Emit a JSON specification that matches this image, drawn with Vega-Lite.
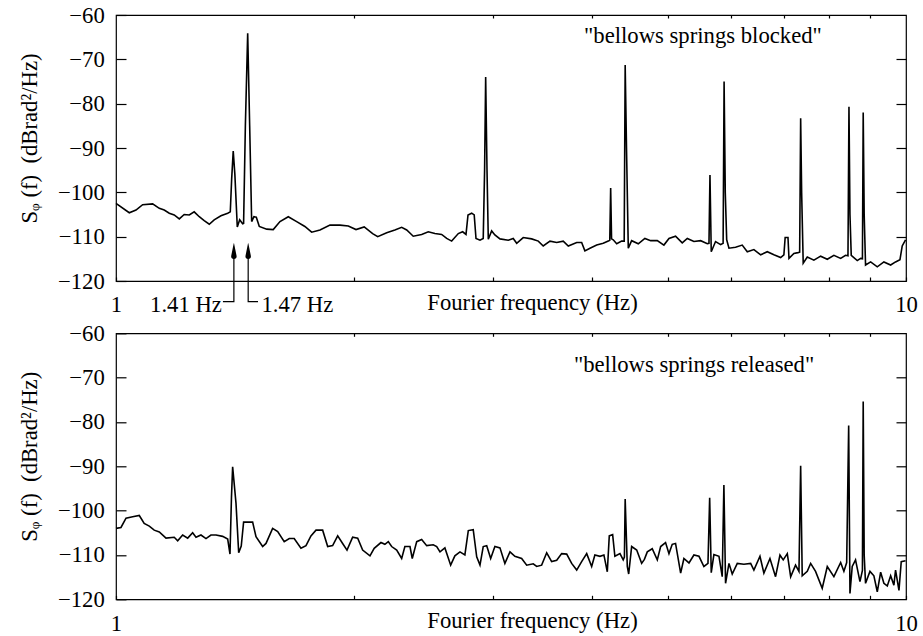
{
  "$schema": "https://vega.github.io/schema/vega-lite/v6.json",
  "autosize": {"type": "pad"},
  "padding": {"left": 17, "top": 3, "right": 0, "bottom": 0},
  "background": "white",
  "bounds": "flush",
  "spacing": 52.3,
  "datasets": {
    "blocked": [
      {"f":1.0000,"v":-102.5},{"f":1.0395,"v":-104.6},{"f":1.0600,"v":-104.0},{"f":1.0807,"v":-102.8},{"f":1.1127,"v":-102.6},
      {"f":1.1345,"v":-103.6},{"f":1.1509,"v":-104.0},{"f":1.1680,"v":-104.7},{"f":1.1849,"v":-105.1},{"f":1.2026,"v":-106.0},
      {"f":1.2199,"v":-105.0},{"f":1.2381,"v":-105.1},{"f":1.2560,"v":-104.4},{"f":1.2747,"v":-105.5},{"f":1.2931,"v":-106.4},
      {"f":1.3124,"v":-107.2},{"f":1.3313,"v":-106.2},{"f":1.3579,"v":-105.3},{"f":1.3848,"v":-104.7},{"f":1.3953,"v":-104.4},
      {"f":1.4009,"v":-97.0},{"f":1.4073,"v":-90.7},{"f":1.4141,"v":-96.0},{"f":1.4241,"v":-107.8},{"f":1.4340,"v":-106.2},
      {"f":1.4464,"v":-107.1},{"f":1.4505,"v":-107.0},{"f":1.4580,"v":-85.0},{"f":1.4679,"v":-64.1},{"f":1.4764,"v":-85.0},
      {"f":1.4850,"v":-106.6},{"f":1.4948,"v":-105.5},{"f":1.5052,"v":-105.6},{"f":1.5184,"v":-107.7},{"f":1.5516,"v":-108.3},
      {"f":1.5813,"v":-108.4},{"f":1.6128,"v":-106.6},{"f":1.6523,"v":-105.5},{"f":1.6932,"v":-106.6},{"f":1.7341,"v":-107.7},
      {"f":1.7687,"v":-109.0},{"f":1.8122,"v":-108.5},{"f":1.8658,"v":-107.4},{"f":1.9209,"v":-107.4},{"f":1.9681,"v":-107.6},
      {"f":2.0128,"v":-108.4},{"f":2.0615,"v":-107.8},{"f":2.1128,"v":-109.3},{"f":2.1442,"v":-110.0},{"f":2.2012,"v":-109.1},
      {"f":2.2543,"v":-108.5},{"f":2.2993,"v":-107.9},{"f":2.3334,"v":-108.5},{"f":2.3782,"v":-109.9},{"f":2.4373,"v":-109.5},
      {"f":2.4849,"v":-108.9},{"f":2.5331,"v":-109.3},{"f":2.5836,"v":-109.5},{"f":2.6218,"v":-110.4},{"f":2.6600,"v":-111.0},
      {"f":2.7120,"v":-109.3},{"f":2.7465,"v":-108.9},{"f":2.7736,"v":-109.5},{"f":2.7898,"v":-105.1},{"f":2.8197,"v":-104.7},
      {"f":2.8407,"v":-105.1},{"f":2.8556,"v":-110.4},{"f":2.8889,"v":-110.8},{"f":2.9164,"v":-110.4},{"f":2.9280,"v":-95.0},
      {"f":2.9372,"v":-74.0},{"f":2.9487,"v":-95.0},{"f":2.9598,"v":-110.6},{"f":2.9889,"v":-108.7},{"f":3.0172,"v":-109.6},
      {"f":3.0623,"v":-110.5},{"f":3.1375,"v":-110.8},{"f":3.1829,"v":-110.4},{"f":3.2152,"v":-111.5},{"f":3.2770,"v":-110.2},
      {"f":3.3585,"v":-110.5},{"f":3.4241,"v":-111.0},{"f":3.4737,"v":-112.1},{"f":3.5427,"v":-111.0},{"f":3.6129,"v":-111.3},
      {"f":3.6822,"v":-111.0},{"f":3.7370,"v":-112.1},{"f":3.8297,"v":-111.3},{"f":3.8854,"v":-111.3},{"f":3.9221,"v":-113.2},
      {"f":3.9808,"v":-112.6},{"f":4.0596,"v":-111.9},{"f":4.1375,"v":-111.5},{"f":4.1990,"v":-111.0},{"f":4.2173,"v":-110.8},
      {"f":4.2282,"v":-99.0},{"f":4.2392,"v":-110.5},{"f":4.2599,"v":-110.7},{"f":4.3033,"v":-111.6},{"f":4.3658,"v":-111.0},
      {"f":4.3984,"v":-111.0},{"f":4.4109,"v":-71.3},{"f":4.4280,"v":-90.0},{"f":4.4511,"v":-112.6},{"f":4.4949,"v":-110.9},
      {"f":4.5827,"v":-111.6},{"f":4.6716,"v":-110.4},{"f":4.7510,"v":-110.9},{"f":4.8437,"v":-110.9},{"f":4.9379,"v":-111.9},
      {"f":5.0115,"v":-110.4},{"f":5.1085,"v":-109.9},{"f":5.2089,"v":-111.4},{"f":5.2863,"v":-110.4},{"f":5.3891,"v":-111.1},
      {"f":5.4964,"v":-110.9},{"f":5.6036,"v":-111.6},{"f":5.6312,"v":-111.5},{"f":5.6475,"v":-96.1},{"f":5.6686,"v":-113.4},
      {"f":5.7402,"v":-111.1},{"f":5.8262,"v":-111.8},{"f":5.8681,"v":-111.5},{"f":5.8849,"v":-75.0},{"f":5.9050,"v":-100.0},
      {"f":5.9296,"v":-110.7},{"f":5.9692,"v":-112.6},{"f":6.0848,"v":-112.4},{"f":6.2044,"v":-111.9},{"f":6.2965,"v":-113.4},
      {"f":6.4190,"v":-112.9},{"f":6.5467,"v":-114.1},{"f":6.6744,"v":-113.4},{"f":6.8043,"v":-114.1},{"f":6.9396,"v":-114.7},
      {"f":7.0054,"v":-114.1},{"f":7.0313,"v":-110.2},{"f":7.0894,"v":-110.2},{"f":7.1099,"v":-114.9},{"f":7.2127,"v":-113.8},
      {"f":7.2990,"v":-113.6},{"f":7.3349,"v":-113.5},{"f":7.3561,"v":-83.3},{"f":7.3772,"v":-100.0},{"f":7.4111,"v":-116.0},
      {"f":7.4996,"v":-114.6},{"f":7.6455,"v":-115.3},{"f":7.7977,"v":-114.4},{"f":7.9498,"v":-115.1},{"f":8.1045,"v":-114.2},
      {"f":8.2657,"v":-114.9},{"f":8.3845,"v":-114.2},{"f":8.4440,"v":-114.3},{"f":8.4685,"v":-80.7},{"f":8.4930,"v":-105.0},
      {"f":8.5248,"v":-114.2},{"f":8.6762,"v":-115.4},{"f":8.7618,"v":-114.9},{"f":8.8072,"v":-115.0},{"f":8.8273,"v":-82.0},
      {"f":8.8525,"v":-105.0},{"f":8.8878,"v":-116.4},{"f":9.0209,"v":-115.7},{"f":9.1969,"v":-116.8},{"f":9.3759,"v":-115.7},
      {"f":9.5624,"v":-116.4},{"f":9.7001,"v":-115.7},{"f":9.8253,"v":-115.2},{"f":9.8904,"v":-112.1},{"f":9.9867,"v":-110.7}
    ],
    "released": [
      {"f":1.0000,"v":-104.0},{"f":1.0146,"v":-103.8},{"f":1.0296,"v":-101.7},{"f":1.0497,"v":-101.4},{"f":1.0702,"v":-101.1},
      {"f":1.0856,"v":-102.9},{"f":1.1019,"v":-103.5},{"f":1.1178,"v":-104.4},{"f":1.1345,"v":-104.8},{"f":1.1569,"v":-106.2},
      {"f":1.1849,"v":-106.0},{"f":1.1970,"v":-106.8},{"f":1.2144,"v":-105.5},{"f":1.2324,"v":-106.2},{"f":1.2503,"v":-105.0},
      {"f":1.2626,"v":-106.0},{"f":1.2810,"v":-105.5},{"f":1.2999,"v":-106.3},{"f":1.3188,"v":-105.5},{"f":1.3384,"v":-105.5},
      {"f":1.3645,"v":-105.8},{"f":1.3848,"v":-106.4},{"f":1.3941,"v":-109.8},{"f":1.4001,"v":-97.0},{"f":1.4049,"v":-90.1},
      {"f":1.4187,"v":-98.3},{"f":1.4299,"v":-109.5},{"f":1.4406,"v":-108.0},{"f":1.4505,"v":-102.6},{"f":1.4892,"v":-102.6},
      {"f":1.5039,"v":-105.9},{"f":1.5333,"v":-108.1},{"f":1.5484,"v":-107.4},{"f":1.5786,"v":-104.0},{"f":1.6021,"v":-104.7},
      {"f":1.6328,"v":-107.0},{"f":1.6571,"v":-106.3},{"f":1.6810,"v":-106.3},{"f":1.7144,"v":-108.5},{"f":1.7398,"v":-107.9},
      {"f":1.7651,"v":-105.7},{"f":1.7913,"v":-104.4},{"f":1.8263,"v":-104.4},{"f":1.8534,"v":-108.1},{"f":1.8803,"v":-107.9},
      {"f":1.9082,"v":-105.7},{"f":1.9359,"v":-107.4},{"f":1.9607,"v":-108.9},{"f":1.9932,"v":-106.0},{"f":2.0228,"v":-106.2},
      {"f":2.0521,"v":-108.9},{"f":2.0965,"v":-110.2},{"f":2.1224,"v":-108.5},{"f":2.1647,"v":-107.2},{"f":2.1896,"v":-107.6},
      {"f":2.2114,"v":-107.0},{"f":2.2332,"v":-108.1},{"f":2.2663,"v":-108.9},{"f":2.2993,"v":-110.8},{"f":2.3210,"v":-108.1},
      {"f":2.3558,"v":-108.1},{"f":2.3714,"v":-110.8},{"f":2.4024,"v":-107.0},{"f":2.4373,"v":-106.5},{"f":2.4734,"v":-107.9},
      {"f":2.5209,"v":-107.7},{"f":2.5466,"v":-108.1},{"f":2.5710,"v":-109.3},{"f":2.6081,"v":-108.4},{"f":2.6523,"v":-112.3},
      {"f":2.6851,"v":-110.2},{"f":2.7253,"v":-109.3},{"f":2.7646,"v":-110.0},{"f":2.7922,"v":-104.5},{"f":2.8326,"v":-104.3},
      {"f":2.8614,"v":-110.4},{"f":2.8889,"v":-112.3},{"f":2.9164,"v":-108.1},{"f":2.9461,"v":-107.9},{"f":2.9804,"v":-110.8},
      {"f":3.0172,"v":-108.1},{"f":3.0623,"v":-108.4},{"f":3.1064,"v":-111.9},{"f":3.1529,"v":-109.3},{"f":3.1983,"v":-110.3},
      {"f":3.2620,"v":-110.8},{"f":3.3103,"v":-112.3},{"f":3.3739,"v":-112.0},{"f":3.4082,"v":-112.6},{"f":3.4578,"v":-112.3},
      {"f":3.5090,"v":-109.5},{"f":3.5601,"v":-111.5},{"f":3.6129,"v":-111.2},{"f":3.6654,"v":-109.7},{"f":3.7197,"v":-109.8},
      {"f":3.7738,"v":-111.9},{"f":3.8297,"v":-113.4},{"f":3.8854,"v":-111.5},{"f":3.9429,"v":-109.7},{"f":4.0003,"v":-112.6},
      {"f":4.0381,"v":-110.0},{"f":4.0985,"v":-110.3},{"f":4.1458,"v":-110.0},{"f":4.1869,"v":-113.8},{"f":4.2112,"v":-105.7},
      {"f":4.2526,"v":-105.4},{"f":4.2805,"v":-110.3},{"f":4.3446,"v":-109.7},{"f":4.3859,"v":-111.1},{"f":4.4009,"v":-110.5},
      {"f":4.4109,"v":-97.4},{"f":4.4383,"v":-112.6},{"f":4.4563,"v":-114.3},{"f":4.4949,"v":-108.1},{"f":4.5615,"v":-108.9},
      {"f":4.6278,"v":-111.9},{"f":4.6650,"v":-111.0},{"f":4.7046,"v":-109.3},{"f":4.7729,"v":-108.6},{"f":4.8437,"v":-111.1},
      {"f":4.8915,"v":-108.1},{"f":4.9618,"v":-107.2},{"f":5.0115,"v":-109.7},{"f":5.0593,"v":-107.6},{"f":5.1085,"v":-107.4},
      {"f":5.1851,"v":-114.1},{"f":5.2343,"v":-110.8},{"f":5.3123,"v":-111.8},{"f":5.3891,"v":-110.0},{"f":5.4695,"v":-110.3},
      {"f":5.5485,"v":-112.6},{"f":5.6149,"v":-111.9},{"f":5.6426,"v":-97.1},{"f":5.6686,"v":-114.0},{"f":5.7126,"v":-109.9},
      {"f":5.7977,"v":-110.3},{"f":5.8530,"v":-114.9},{"f":5.8815,"v":-94.2},{"f":5.9100,"v":-116.4},{"f":5.9692,"v":-111.9},
      {"f":6.0261,"v":-114.3},{"f":6.1156,"v":-111.9},{"f":6.2346,"v":-112.1},{"f":6.3586,"v":-111.9},{"f":6.4190,"v":-113.4},
      {"f":6.5335,"v":-110.3},{"f":6.6088,"v":-114.1},{"f":6.7267,"v":-110.8},{"f":6.8372,"v":-114.9},{"f":6.9256,"v":-110.0},
      {"f":6.9915,"v":-111.1},{"f":7.0750,"v":-109.7},{"f":7.1449,"v":-114.9},{"f":7.2476,"v":-112.3},{"f":7.3201,"v":-113.7},
      {"f":7.3561,"v":-89.9},{"f":7.3899,"v":-114.7},{"f":7.4996,"v":-113.7},{"f":7.5737,"v":-111.9},{"f":7.6825,"v":-113.7},
      {"f":7.8335,"v":-117.5},{"f":7.9498,"v":-112.6},{"f":8.1045,"v":-114.9},{"f":8.2657,"v":-111.7},{"f":8.3442,"v":-113.7},
      {"f":8.4122,"v":-111.7},{"f":8.4612,"v":-80.8},{"f":8.4930,"v":-118.7},{"f":8.5492,"v":-112.6},{"f":8.6324,"v":-111.1},
      {"f":8.7442,"v":-116.0},{"f":8.8072,"v":-113.5},{"f":8.8273,"v":-75.4},{"f":8.8525,"v":-110.0},{"f":8.8878,"v":-116.4},
      {"f":9.0028,"v":-113.7},{"f":9.1065,"v":-114.7},{"f":9.1969,"v":-118.3},{"f":9.2877,"v":-113.9},{"f":9.3759,"v":-116.4},
      {"f":9.4690,"v":-117.0},{"f":9.5624,"v":-114.7},{"f":9.6532,"v":-116.8},{"f":9.7001,"v":-113.4},{"f":9.7970,"v":-118.0},
      {"f":9.8622,"v":-111.5},{"f":9.9867,"v":-111.3}
    ],
    "arrows": [
      {"id":"a","i":1,"f":1.41,"v":-113.5},{"id":"a","i":2,"f":1.41,"v":-124.67},{"id":"a","i":3,"f":1.3657,"v":-124.67},
      {"id":"b","i":1,"f":1.47,"v":-113.5},{"id":"b","i":2,"f":1.47,"v":-124.67},{"id":"b","i":3,"f":1.5127,"v":-124.67}
    ],
    "heads": [
      {"id":"a","f":1.41,"v":-114.4,"end":"base"},{"id":"a","f":1.41,"v":-111.5,"end":"tip"},
      {"id":"b","f":1.47,"v":-114.4,"end":"base"},{"id":"b","f":1.47,"v":-111.5,"end":"tip"}
    ],
    "labL": [{"label":"1.41 Hz","f":1.3618,"v":-126.93}],
    "labR": [{"label":"1.47 Hz","f":1.528,"v":-126.93}],
    "note1": [{"label":"\"bellows springs blocked\"","f":5.533,"v":-66.4}],
    "note2": [{"label":"\"bellows springs released\"","f":5.392,"v":-68.7}]
  },
  "vconcat": [
    {
      "width": 790,
      "height": 266,
      "resolve": {"axis": {"x": "independent", "y": "independent"}},
      "layer": [
        {
          "data": {"name": "blocked"},
          "mark": {"type": "line", "color": "black", "strokeWidth": 1.6},
          "encoding": {
            "x": {"field": "f", "type": "quantitative", "scale": {"type": "log", "domain": [1, 10], "nice": false},
              "axis": {"orient": "bottom", "values": [1,2,3,4,5,6,7,8,9,10], "tickSize": -4, "format": "d",
                "labelExpr": "datum.value == 1 || datum.value == 10 ? datum.label : ''",
                "labelFlush": false, "labelOverlap": false, "labelBound": false, "labelBaseline": "alphabetic", "labelPadding": 34.7,
                "title": "Fourier frequency (Hz)", "titleX": 416, "titleY": 28, "titleBaseline": "alphabetic"}},
            "y": {"field": "v", "type": "quantitative", "scale": {"domain": [-120, -60], "nice": false, "zero": false},
              "axis": {"orient": "left", "values": [-120,-110,-100,-90,-80,-70,-60], "tickSize": -10, "format": "d",
                "labelPadding": 21.7, "labelOverlap": false, "labelBound": false,
                "title": "Sᵩ\u00a0(f)\u00a0\u00a0(dBrad²/Hz)", "titleX": -87, "titleY": 123, "titleAngle": 270, "titleBaseline": "middle"}}
          }
        },
        {
          "data": {"name": "note1"},
          "mark": {"type": "text", "align": "center", "baseline": "alphabetic", "color": "black"},
          "encoding": {
            "x": {"field": "f", "type": "quantitative", "scale": {"type": "log", "domain": [1, 10], "nice": false},
              "axis": {"orient": "top", "values": [2,3,4,5,6,7,8,9], "tickSize": -3, "labels": false, "title": null}},
            "y": {"field": "v", "type": "quantitative", "scale": {"domain": [-120, -60], "nice": false, "zero": false},
              "axis": {"orient": "right", "values": [-110,-100,-90,-80,-70], "tickSize": -10, "labels": false, "title": null}},
            "text": {"field": "label"}
          }
        },
        {
          "data": {"name": "arrows"},
          "mark": {"type": "line", "color": "black", "strokeWidth": 1.2},
          "encoding": {
            "x": {"field": "f", "type": "quantitative", "scale": {"type": "log", "domain": [1, 10], "nice": false}, "axis": null},
            "y": {"field": "v", "type": "quantitative", "scale": {"domain": [-120, -60], "nice": false, "zero": false}, "axis": null},
            "detail": {"field": "id"},
            "order": {"field": "i"}
          }
        },
        {
          "data": {"name": "heads"},
          "mark": {"type": "trail", "color": "black", "opacity": 1},
          "encoding": {
            "x": {"field": "f", "type": "quantitative", "scale": {"type": "log", "domain": [1, 10], "nice": false}, "axis": null},
            "y": {"field": "v", "type": "quantitative", "scale": {"domain": [-120, -60], "nice": false, "zero": false}, "axis": null},
            "size": {"field": "end", "type": "ordinal", "scale": {"domain": ["base", "tip"], "range": [5.5, 0.3]}, "legend": null},
            "detail": {"field": "id"},
            "order": {"field": "v"}
          }
        },
        {
          "data": {"name": "labL"},
          "mark": {"type": "text", "align": "right", "baseline": "alphabetic", "color": "black"},
          "encoding": {
            "x": {"field": "f", "type": "quantitative", "scale": {"type": "log", "domain": [1, 10], "nice": false}, "axis": null},
            "y": {"field": "v", "type": "quantitative", "scale": {"domain": [-120, -60], "nice": false, "zero": false}, "axis": null},
            "text": {"field": "label"}
          }
        },
        {
          "data": {"name": "labR"},
          "mark": {"type": "text", "align": "left", "baseline": "alphabetic", "color": "black"},
          "encoding": {
            "x": {"field": "f", "type": "quantitative", "scale": {"type": "log", "domain": [1, 10], "nice": false}, "axis": null},
            "y": {"field": "v", "type": "quantitative", "scale": {"domain": [-120, -60], "nice": false, "zero": false}, "axis": null},
            "text": {"field": "label"}
          }
        }
      ]
    },
    {
      "width": 790,
      "height": 266,
      "resolve": {"axis": {"x": "independent", "y": "independent"}},
      "layer": [
        {
          "data": {"name": "released"},
          "mark": {"type": "line", "color": "black", "strokeWidth": 1.6},
          "encoding": {
            "x": {"field": "f", "type": "quantitative", "scale": {"type": "log", "domain": [1, 10], "nice": false},
              "axis": {"orient": "bottom", "values": [1,2,3,4,5,6,7,8,9,10], "tickSize": -4, "format": "d",
                "labelExpr": "datum.value == 1 || datum.value == 10 ? datum.label : ''",
                "labelFlush": false, "labelOverlap": false, "labelBound": false, "labelBaseline": "alphabetic", "labelPadding": 34.7,
                "title": "Fourier frequency (Hz)", "titleX": 416, "titleY": 28, "titleBaseline": "alphabetic"}},
            "y": {"field": "v", "type": "quantitative", "scale": {"domain": [-120, -60], "nice": false, "zero": false},
              "axis": {"orient": "left", "values": [-120,-110,-100,-90,-80,-70,-60], "tickSize": -10, "format": "d",
                "labelPadding": 21.7, "labelOverlap": false, "labelBound": false,
                "title": "Sᵩ\u00a0(f)\u00a0\u00a0(dBrad²/Hz)", "titleX": -87, "titleY": 123, "titleAngle": 270, "titleBaseline": "middle"}}
          }
        },
        {
          "data": {"name": "note2"},
          "mark": {"type": "text", "align": "center", "baseline": "alphabetic", "color": "black"},
          "encoding": {
            "x": {"field": "f", "type": "quantitative", "scale": {"type": "log", "domain": [1, 10], "nice": false},
              "axis": {"orient": "top", "values": [2,3,4,5,6,7,8,9], "tickSize": -3, "labels": false, "title": null}},
            "y": {"field": "v", "type": "quantitative", "scale": {"domain": [-120, -60], "nice": false, "zero": false},
              "axis": {"orient": "right", "values": [-110,-100,-90,-80,-70], "tickSize": -10, "labels": false, "title": null}},
            "text": {"field": "label"}
          }
        }
      ]
    }
  ],
  "config": {
    "view": {"stroke": "black", "strokeWidth": 1.2},
    "axis": {"domain": false, "grid": false, "tickColor": "black", "tickWidth": 1.2,
      "labelFont": "Liberation Serif", "labelFontSize": 22.7, "labelColor": "black",
      "titleFont": "Liberation Serif", "titleFontSize": 22.7, "titleFontWeight": "normal", "titleColor": "black"},
    "text": {"font": "Liberation Serif", "fontSize": 22.7}
  }
}
